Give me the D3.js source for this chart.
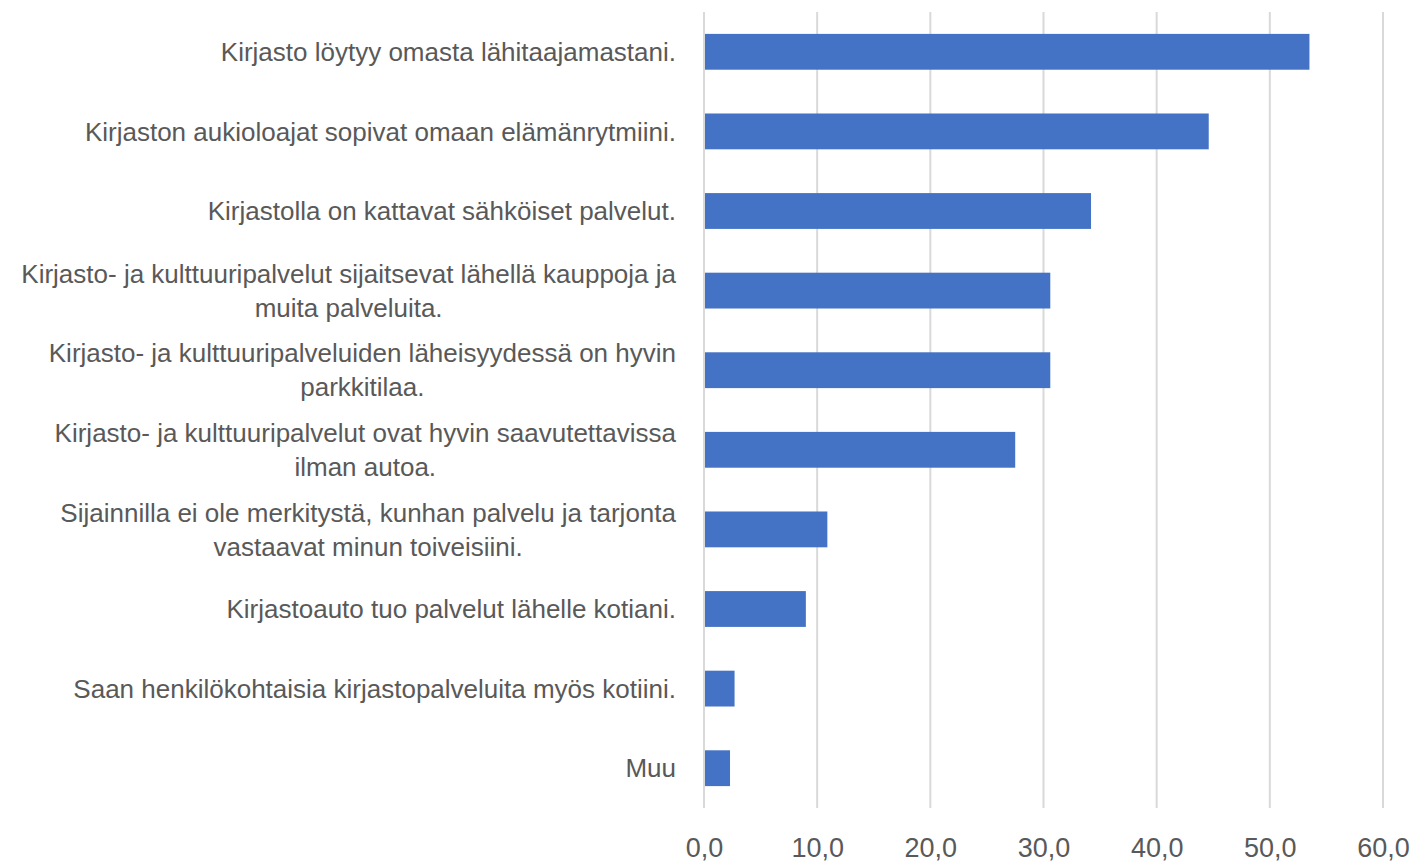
<!DOCTYPE html>
<html>
<head>
<meta charset="utf-8">
<script src="https://cdn.jsdelivr.net/npm/d3@7"></script>
<style>
  html, body { margin: 0; padding: 0; background: #ffffff; }
  svg { display: block; }
</style>
</head>
<body>
<svg id="chart" width="1428" height="864"></svg>
<script>
const categories = [
  "Kirjasto löytyy omasta lähitaajamastani.",
  "Kirjaston aukioloajat sopivat omaan elämänrytmiini.",
  "Kirjastolla on kattavat sähköiset palvelut.",
  "Kirjasto- ja kulttuuripalvelut sijaitsevat lähellä kauppoja ja\nmuita palveluita.",
  "Kirjasto- ja kulttuuripalveluiden läheisyydessä on hyvin\nparkkitilaa.",
  "Kirjasto- ja kulttuuripalvelut ovat hyvin saavutettavissa\nilman autoa.",
  "Sijainnilla ei ole merkitystä, kunhan palvelu ja tarjonta\nvastaavat minun toiveisiini.",
  "Kirjastoauto tuo palvelut lähelle kotiani.",
  "Saan henkilökohtaisia kirjastopalveluita myös kotiini.",
  "Muu"
];
const values = [53.5, 44.6, 34.2, 30.6, 30.6, 27.5, 10.9, 9.0, 2.7, 2.3];
const tickValues = [0, 10, 20, 30, 40, 50, 60];

const svg = d3.select("#chart");
const margin = { top: 12, right: 45, bottom: 56, left: 704 };
const W = 1428, H = 864;

const x = d3.scaleLinear().domain([0, 60]).range([margin.left, W - margin.right]);
const y = d3.scaleBand().domain(categories).range([margin.top, H - margin.bottom])
  .paddingInner(0.55).paddingOuter(0.275);

const fontFam = "'Liberation Sans', Arial, sans-serif";

// gridlines
svg.append("g").selectAll("line").data(tickValues).join("line")
  .attr("x1", d => x(d)).attr("x2", d => x(d))
  .attr("y1", margin.top).attr("y2", H - margin.bottom)
  .attr("stroke", "#d9d9d9").attr("stroke-width", 2);

// bars
svg.append("g").selectAll("rect").data(categories).join("rect")
  .attr("x", x(0) + 1)
  .attr("y", d => y(d))
  .attr("width", (d, i) => x(values[i]) - x(0) - 1)
  .attr("height", y.bandwidth())
  .attr("fill", "#4472c4");

// x axis
const xAxis = d3.axisBottom(x).tickValues(tickValues)
  .tickFormat(d => d3.format(".1f")(d).replace(".", ","))
  .tickSize(0).tickPadding(30);
const gx = svg.append("g").attr("transform", `translate(0,${H - margin.bottom})`).call(xAxis);
gx.select(".domain").remove();
gx.selectAll("text").attr("fill", "#595959").style("font-family", fontFam).style("font-size", "27px");

// category labels
const labelRight = 676;
const lineH = 34;
const fs = 26;
const lg = svg.append("g");
categories.forEach((c, i) => {
  const lines = c.split("\n");
  const cy = y(c) + y.bandwidth() / 2;
  const t = lg.append("text")
    .attr("fill", "#595959")
    .style("font-family", fontFam)
    .style("font-size", fs + "px");
  const spans = lines.map((ln, j) => t.append("tspan")
    .attr("x", 0)
    .attr("y", cy + (j - (lines.length - 1) / 2) * lineH)
    .attr("dy", "0.35em")
    .text(ln));
  const widths = spans.map(s => s.node().getComputedTextLength());
  const maxW = d3.max(widths);
  spans.forEach((s, j) => {
    s.attr("x", labelRight - maxW + (maxW - widths[j]) / 2);
  });
});
</script>
</body>
</html>
